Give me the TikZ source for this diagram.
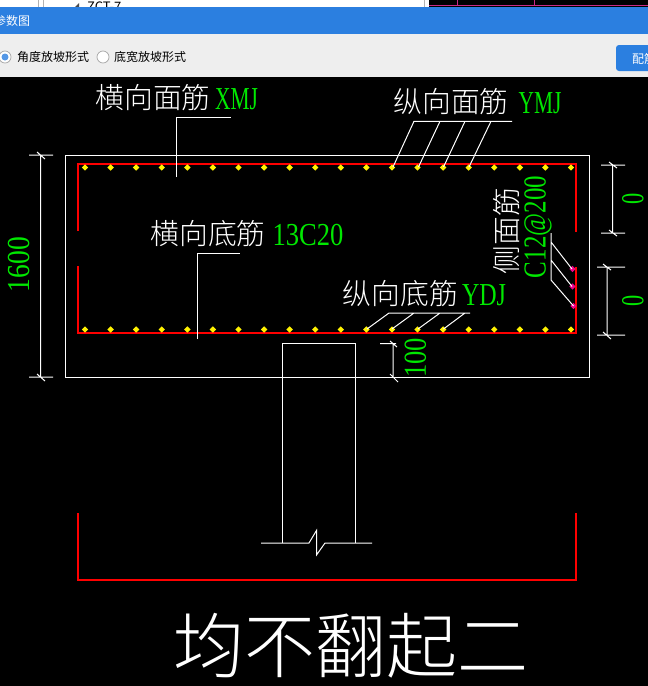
\documentclass[tikz,border=0pt]{standalone}
\usepackage{fontspec}
\setmainfont{Liberation Serif}
\newfontfamily\cjk{Noto Sans CJK SC Light}
\newfontfamily\uisans{Noto Sans CJK SC}
\definecolor{uiblue}{HTML}{2B7FE0}
\definecolor{uigray}{HTML}{EEEEEE}
\definecolor{dimgreen}{HTML}{00E800}
\tikzset{
  thinw/.style={draw=white,line width=1pt},
  redbar/.style={draw=red,line width=2.5pt},
  cntext/.style={text=white,inner sep=0pt,font=\fontsize{28.8}{29}\selectfont\cjk},
  gtext/.style={text=dimgreen,inner sep=0pt,font=\fontsize{32}{32}\selectfont},
  uitext/.style={text=black,inner sep=0pt,font=\fontsize{12}{12}\selectfont\uisans},
}
\newcommand{\fz}[1]{\fontsize{#1}{#1}\selectfont}
\newcommand{\rebardot}[2]{\fill[#1] #2 ++(-3.2,0) -- ++(3.2,-3.2) -- ++(3.2,3.2) -- ++(-3.2,3.2) -- cycle;}
\begin{document}
\begin{tikzpicture}[x=1pt,y=-1pt]
\useasboundingbox (0,0) rectangle (648,686);
\clip (0,0) rectangle (648,686);
% window chrome
\fill[black] (0,0) rectangle (648,686);
\fill[white] (0,0) rectangle (429,8);
\fill[black] (429,0) rectangle (648,8);
\draw[gray!60,line width=0.7pt] (38.5,0)--(38.5,8) (43.5,0)--(43.5,8) (424.5,0)--(424.5,8);
\draw[magenta!80!black,line width=0.8pt] (429,5.5)--(648,5.5) (457.5,0)--(457.5,5.5) (534,0)--(534,5.5);
\fill[black!70] (75,7)--(79,3)--(79,7)--cycle;
\node[uitext,font=\fz{13}\uisans,anchor=west] (tree) at (87,6.5) {ZCT-7};
\fill[uiblue] (0,7) rectangle (648,34);
\fill[uigray] (0,34) rectangle (648,77);
\node[uitext,text=white,anchor=west] (title) at (-6,20.5) {参数图};
\draw[gray!70,fill=white,line width=0.7pt] (5,57) circle (6);
\fill[uiblue!80!white] (5,57) circle (3.5);
\node[uitext,anchor=west] (r1) at (17,57) {角度放坡形式};
\draw[gray!70,fill=white,line width=0.7pt] (103,57) circle (6);
\node[uitext,anchor=west] (r2) at (114,57) {底宽放坡形式};
\fill[uiblue,rounded corners=3pt] (616,45) rectangle (660,71);
\node[uitext,text=white,anchor=west] (btn) at (632,58.5) {配筋};
% slab outline
\draw[thinw] (65.5,155) rectangle (589.5,377);
% red rebar
\draw[redbar] (78,231)--(78,164)--(576,164)--(576,232);
\draw[redbar] (78,266)--(78,333)--(576,333)--(576,267);
\draw[redbar] (78,513)--(78,580)--(576,580)--(576,513);
% rebar dots
\foreach \i in {0,...,19}{
  \rebardot{yellow}{({85+\i*25.58},167.5)}
  \rebardot{yellow}{({85+\i*25.58},329.5)}
}
\rebardot{magenta}{(572.5,269)}
\rebardot{magenta}{(572.5,286.5)}
\rebardot{magenta}{(573.5,306)}
% column
\draw[thinw] (282.5,543)--(282.5,343.5)--(355.5,343.5)--(355.5,543);
\draw[thinw] (261,543)--(309,543)--(316.5,530.5)--(316.5,555)--(325,543)--(372,543);
% left dim
\draw[thinw] (40.5,155)--(40.5,377) (29,155)--(53,155) (29,377)--(53,377)
  (37,152)--(45,159) (37,374)--(45,381);
% right dims
\draw[thinw] (612.7,165)--(612.7,233) (601,165)--(625,165) (601,233)--(625,233)
  (609,162)--(617,168) (609,230)--(617,236);
\draw[thinw] (607,267)--(607,335) (597,267)--(625,267) (597,335)--(625,335)
  (603,264)--(611,270) (603,332)--(611,339);
% 100 dim
\draw[thinw] (393,343.5)--(393,377) (380,343.5)--(396,343.5)
  (390,341)--(397,347) (390,374)--(398,382);
% leaders
\draw[thinw] (176,177)--(176,117)--(231,117);
\draw[thinw] (197.5,339)--(197.5,253)--(240,253);
\draw[thinw] (393,167)--(414,121.3)--(512,121.3) (418.5,167)--(440,121.3) (443.5,167)--(465,121.3) (469,167)--(491,121.3);
\draw[thinw] (367,329)--(389,313)--(470,313) (392,329)--(414,313) (418,329)--(440,313) (443.5,329)--(465,313);
\draw[thinw] (551,233)--(551,280) (551,242)--(572,269) (551,260)--(572,286.5) (551,280)--(573.5,306);
% labels
\node[cntext,anchor=center] (xm) at (153,98) {横向面筋};
\node[gtext,xscale=0.67,anchor=center] (xmv) at (236.5,99) {XMJ};
\node[cntext,anchor=center] (ym) at (451,102) {纵向面筋};
\node[gtext,xscale=0.67,anchor=center] (ymv) at (540,103) {YMJ};
\node[cntext,anchor=center] (xd) at (208,234) {横向底筋};
\node[gtext,xscale=0.83,anchor=center] (xdv) at (308,235) {13C20};
\node[cntext,anchor=center] (yd) at (400.5,294) {纵向底筋};
\node[gtext,xscale=0.75,anchor=center] (ydv) at (484,295) {YDJ};
\node[cntext,rotate=90,anchor=center] (sm) at (507,231) {侧面筋};
\node[gtext,rotate=90,xscale=0.78,anchor=center] (smv) at (538,227) {C12@200};
\node[gtext,rotate=90,xscale=0.86,anchor=center] (d1600) at (19.5,264.5) {1600};
\node[gtext,rotate=90,xscale=0.7,anchor=center] (d0a) at (633,199) {0};
\node[gtext,rotate=90,xscale=0.7,anchor=center] (d0b) at (633,301) {0};
\node[gtext,rotate=90,xscale=0.83,anchor=center] (d100) at (415.5,358) {100};
\node[cntext,font=\fz{71}\cjk,anchor=center] (cap) at (350.5,646) {均不翻起二};
\end{tikzpicture}
\end{document}
